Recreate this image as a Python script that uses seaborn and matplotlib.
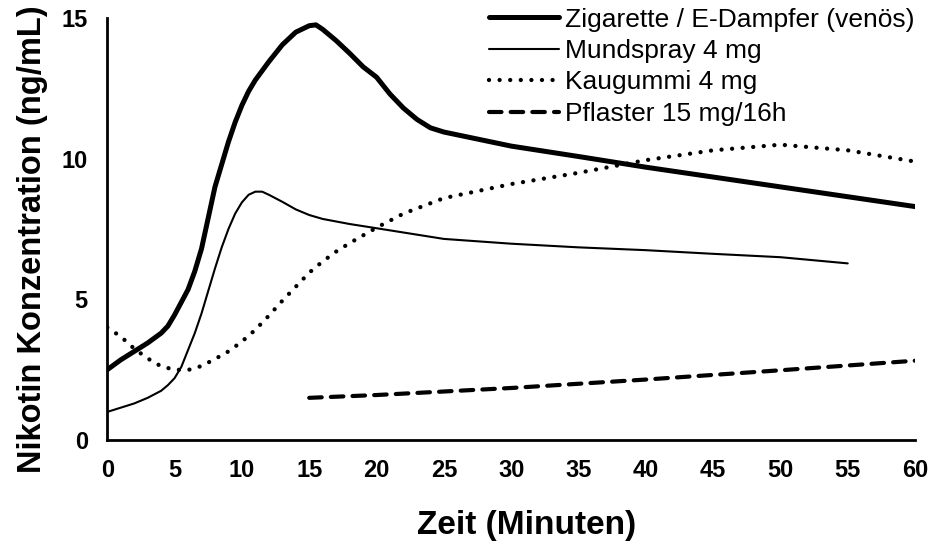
import matplotlib
matplotlib.use("Agg")
import matplotlib.pyplot as plt
import seaborn as sns
import pandas as pd

sns.set_theme(style="white")
plt.rcParams['font.family'] = ['Liberation Sans', 'DejaVu Sans']

# Zigarette / E-Dampfer (venös)
cig_t = [0, 1, 2, 3, 4, 4.5, 5, 5.5, 6, 6.5, 7, 7.5, 8, 8.5, 9, 9.5, 10, 10.5, 11, 12, 13, 14, 15, 15.5, 16, 17, 18, 19, 20, 21, 22, 23, 24, 25, 26, 28, 30, 35, 40, 45, 50, 55, 60]
cig_c = [2.5, 2.85, 3.15, 3.45, 3.8, 4.05, 4.45, 4.9, 5.35, 6.0, 6.8, 7.9, 9.0, 9.8, 10.6, 11.3, 11.9, 12.4, 12.8, 13.45, 14.05, 14.5, 14.73, 14.76, 14.6, 14.2, 13.75, 13.27, 12.9, 12.3, 11.8, 11.4, 11.1, 10.95, 10.85, 10.65, 10.45, 10.08, 9.7, 9.35, 9.0, 8.65, 8.3]

# Mundspray 4 mg
spray_t = [0, 1, 2, 3, 4, 4.5, 5, 5.5, 6, 6.5, 7, 7.5, 8, 8.5, 9, 9.5, 10, 10.5, 11, 11.5, 12, 13, 14, 15, 16, 18, 20, 25, 30, 35, 40, 45, 50, 55]
spray_c = [1.0, 1.15, 1.3, 1.5, 1.75, 1.95, 2.2, 2.6, 3.2, 3.8, 4.5, 5.3, 6.1, 6.85, 7.5, 8.05, 8.45, 8.72, 8.83, 8.83, 8.72, 8.47, 8.2, 8.0, 7.86, 7.68, 7.53, 7.15, 6.98, 6.85, 6.75, 6.62, 6.5, 6.28]

# Kaugummi 4 mg
gum_t = [0, 1, 2, 3, 4, 5, 6, 7, 8, 9, 10, 11, 12, 13, 14, 15, 16, 17, 18, 20, 22, 25, 30, 35, 40, 45, 50, 55, 60]
gum_c = [4.0, 3.68, 3.25, 2.9, 2.62, 2.5, 2.49, 2.63, 2.88, 3.15, 3.5, 3.92, 4.42, 4.95, 5.45, 5.95, 6.35, 6.7, 7.0, 7.55, 8.05, 8.6, 9.1, 9.5, 9.95, 10.3, 10.5, 10.3, 9.9]

# Pflaster 15 mg/16h
patch_t = [15, 20, 30, 40, 50, 60]
patch_c = [1.5, 1.6, 1.85, 2.15, 2.48, 2.82]

labels = ["Zigarette / E-Dampfer (venös)", "Mundspray 4 mg", "Kaugummi 4 mg", "Pflaster 15 mg/16h"]
x_ticks = list(range(0, 61, 5))
y_ticks = [0, 5, 10, 15]

fig = plt.figure(figsize=(9.51, 5.49), dpi=100)
ax = fig.add_axes([0.1128, 0.1985, 0.8494, 0.7685])

series = [
    (cig_t, cig_c, dict(lw=3.6, linestyle="-", solid_capstyle="round", solid_joinstyle="round")),
    (spray_t, spray_c, dict(lw=1.5, linestyle="-", solid_joinstyle="round")),
    (gum_t, gum_c, dict(lw=3.1, linestyle=(0, (0.01, 2.45)), dash_capstyle="round")),
    (patch_t, patch_c, dict(lw=3.0, linestyle=(0, (3.0, 2.2)), dash_capstyle="round")),
]
handles = []
for (t, c, st), lab in zip(series, labels):
    df = pd.DataFrame({"t": t, "c": c})
    sns.lineplot(data=df, x="t", y="c", ax=ax, color="black", sort=False, **st)
    handles.append(ax.lines[-1])

ax.set_xlim(0, 60)
ax.set_ylim(0, 15)
ax.set_xticks(x_ticks)
ax.set_yticks(y_ticks)
ax.set_xticklabels([str(v) for v in x_ticks], fontsize=17, fontweight="bold")
ax.set_yticklabels([str(v) for v in y_ticks], fontsize=17, fontweight="bold")
ax.tick_params(axis="both", direction="out", length=6, width=2, color="black", labelcolor="black")
ax.tick_params(axis="y", pad=8)
ax.tick_params(axis="x", pad=8)
for s in ["top", "right"]:
    ax.spines[s].set_visible(False)
for s in ["left", "bottom"]:
    ax.spines[s].set_linewidth(2)
    ax.spines[s].set_color("black")
ax.set_xlabel("Zeit (Minuten)", fontsize=24, fontweight="bold", labelpad=20, color="black")
ax.set_ylabel("Nikotin Konzentration (ng/mL)", fontsize=23.5, fontweight="bold", labelpad=10, color="black")
ax.xaxis.label.set_x(0.519)
ax.yaxis.label.set_y(0.476)

leg = ax.legend(handles, labels, loc="upper right", bbox_to_anchor=(1.012, 1.05), frameon=False,
                fontsize=19, handlelength=2.65, handletextpad=0.22, labelspacing=0.28, borderaxespad=0)
for txt in leg.get_texts():
    txt.set_color("black")

fig.savefig("out.png", dpi=100, facecolor="white")
